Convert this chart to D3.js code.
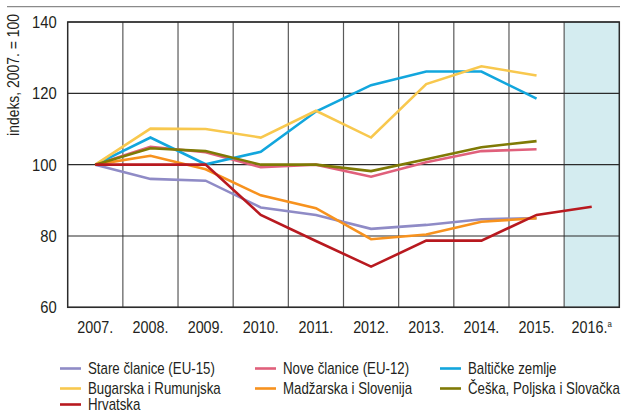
<!DOCTYPE html>
<html>
<head>
<meta charset="utf-8">
<script src="https://cdn.jsdelivr.net/npm/d3@7"></script>
<style>
  html, body { margin: 0; padding: 0; background: #fff; }
  svg text { font-family: "Liberation Sans", Arial, sans-serif; fill: #231f20; }
</style>
</head>
<body>
<svg id="chart" width="625" height="414"></svg>
<script>
// Years on the x axis; 2016 is a forecast column
const years = ["2007.", "2008.", "2009.", "2010.", "2011.", "2012.", "2013.", "2014.", "2015.", "2016."];
const yTicks = [60, 80, 100, 120, 140];

const seriesNames = [
  "Stare članice (EU-15)", "Nove članice (EU-12)", "Baltičke zemlje",
  "Bugarska i Rumunjska", "Madžarska i Slovenija", "Češka, Poljska i Slovačka",
  "Hrvatska"
];
const seriesColors = ["#8f8bc6", "#e0607b", "#12a6dd", "#f8c84e", "#f7921e", "#7f7a05", "#b8191f"];

// Index values, 2007 = 100 (null where no data)
const stare     = [100, 96.0, 95.5, 88.0, 85.9, 82.0, 83.1, 84.7, 85.0, null];
const nove      = [100, 105.0, 103.5, 99.3, 100.0, 96.6, 100.7, 103.8, 104.3, null];
const balticke  = [100, 107.6, 100.1, 103.6, 114.9, 122.3, 126.1, 126.1, 118.5, null];
const bugarska  = [100, 110.1, 110.0, 107.6, 115.1, 107.6, 122.6, 127.6, 125.0, null];
const madzarska = [100, 102.5, 98.7, 91.4, 87.8, 79.1, 80.4, 84.0, 85.0, null];
const ceska     = [100, 104.6, 103.8, 100.0, 100.0, 98.2, 101.5, 104.9, 106.6, null];
const hrvatska  = [100, 100.0, 100.0, 85.9, 78.6, 71.4, 78.7, 78.7, 85.9, 88.2];

const seriesValues = [stare, nove, balticke, bugarska, madzarska, ceska, hrvatska];

// Condensed look: regular sans squeezed horizontally
const SX = 0.87;
const SX_LEGEND = 0.83;

const svg = d3.select("#chart");
const plot = { left: 67.7, right: 619.3, top: 22, bottom: 307.3 };

const x = d3.scaleBand().domain(years).range([plot.left, plot.right]).padding(0);
const y = d3.scaleLinear().domain([60, 140]).range([plot.bottom, plot.top]);
const cx = d => x(d) + x.bandwidth() / 2;

// Rule above the chart
svg.append("line")
  .attr("x1", 7).attr("x2", 620).attr("y1", 6.7).attr("y2", 6.7)
  .attr("stroke", "#8a8a8a").attr("stroke-width", 1.2);

// Shaded forecast column
svg.append("rect")
  .attr("x", x("2016.")).attr("y", plot.top)
  .attr("width", x.bandwidth()).attr("height", plot.bottom - plot.top)
  .attr("fill", "#d4ecf0");

// Vertical gridlines between year columns
svg.append("g")
  .selectAll("line")
  .data(years.slice(1))
  .join("line")
  .attr("x1", d => x(d)).attr("x2", d => x(d))
  .attr("y1", plot.top).attr("y2", plot.bottom)
  .attr("stroke", "#5a5a5a").attr("stroke-width", 1.2);

// Horizontal gridlines
svg.append("g")
  .selectAll("line")
  .data(yTicks)
  .join("line")
  .attr("x1", plot.left).attr("x2", plot.right)
  .attr("y1", d => y(d)).attr("y2", d => y(d))
  .attr("stroke", "#2b2b2b").attr("stroke-width", 1.2);

// Frame
svg.append("rect")
  .attr("x", plot.left).attr("y", plot.top)
  .attr("width", plot.right - plot.left).attr("height", plot.bottom - plot.top)
  .attr("fill", "none").attr("stroke", "#2b2b2b").attr("stroke-width", 1.5);

// Y axis
const yPad = 11;
const yAxis = svg.append("g")
  .attr("transform", `translate(${plot.left},0)`)
  .call(d3.axisLeft(y).tickValues(yTicks).tickSize(0).tickPadding(yPad));
yAxis.select(".domain").remove();
yAxis.selectAll("text")
  .style("font-size", "17px")
  .attr("fill", "#231f20")
  .attr("x", -yPad / SX)
  .attr("transform", `scale(${SX},1)`);

// X axis
const xAxis = svg.append("g")
  .attr("transform", `translate(0,${plot.bottom})`)
  .call(d3.axisBottom(x).tickSize(0).tickPadding(14));
xAxis.select(".domain").remove();
xAxis.selectAll("text")
  .style("font-size", "16.5px")
  .attr("fill", "#231f20")
  .attr("transform", `scale(${SX},1)`);
xAxis.selectAll(".tick").filter(d => d === "2016.")
  .select("text")
  .append("tspan")
  .attr("dy", "-0.65em")
  .style("font-size", "9px")
  .text("a");

// Y axis title
svg.append("text")
  .attr("transform", `translate(19,75) rotate(-90) scale(${SX},1)`)
  .attr("text-anchor", "middle")
  .style("font-size", "16px")
  .text("indeks, 2007. = 100");

// Series lines
const line = d3.line()
  .defined(d => d.v !== null)
  .x(d => cx(d.year))
  .y(d => y(d.v));

svg.append("g")
  .selectAll("path")
  .data(seriesValues.map((vals, i) => ({ i, pts: vals.map((v, j) => ({ year: years[j], v })) })))
  .join("path")
  .attr("d", d => line(d.pts))
  .attr("fill", "none")
  .attr("stroke", d => seriesColors[d.i])
  .attr("stroke-width", 2.6)
  .attr("stroke-linejoin", "miter");

// Legend: three columns, three rows
const legendCols = [60, 255, 440];
const legendRows = [368.5, 388.5, 404.5];
const legend = svg.append("g")
  .selectAll("g")
  .data(seriesNames)
  .join("g")
  .attr("transform", (d, i) => `translate(${legendCols[i % 3]},${legendRows[Math.floor(i / 3)]})`);
legend.append("line")
  .attr("x1", 0).attr("x2", 21)
  .attr("stroke", (d, i) => seriesColors[i])
  .attr("stroke-width", 2.6);
legend.append("text")
  .attr("transform", `translate(28,0) scale(${SX_LEGEND},1)`)
  .attr("dy", "0.36em")
  .style("font-size", "16px")
  .text(d => d);
</script>
</body>
</html>
